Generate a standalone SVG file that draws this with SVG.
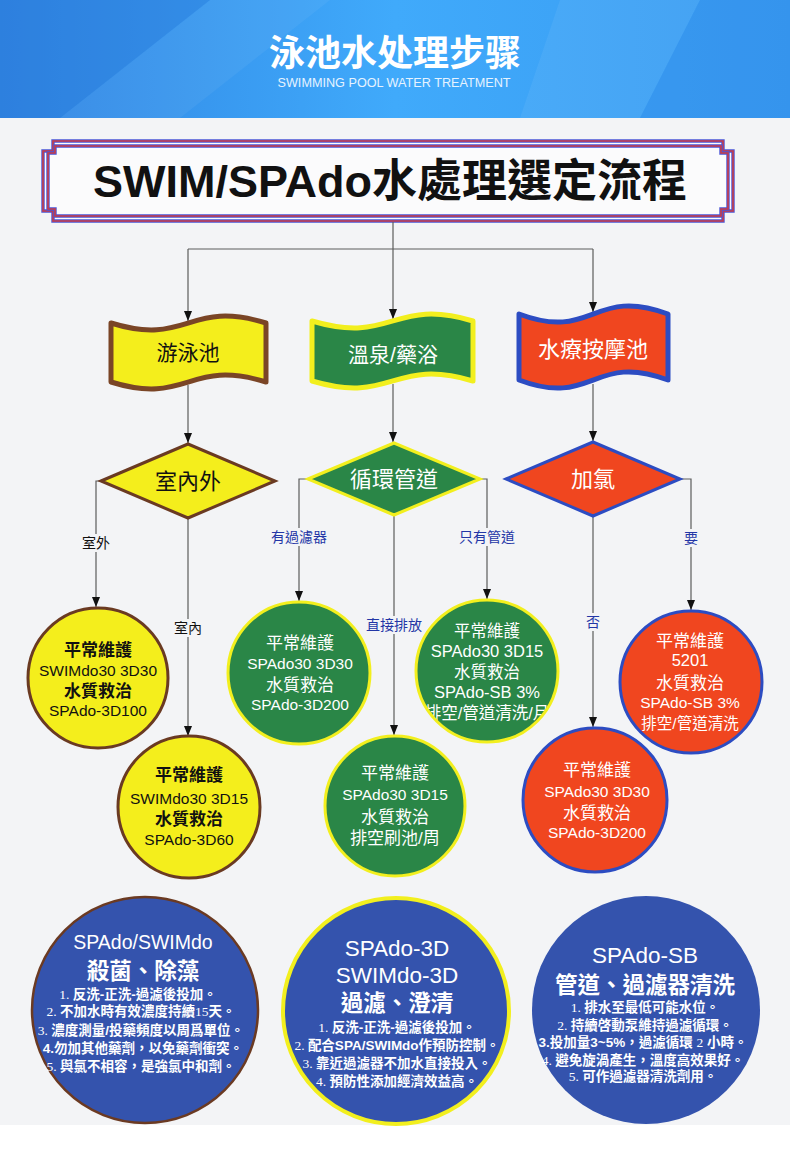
<svg xmlns="http://www.w3.org/2000/svg" width="790" height="1162" viewBox="0 0 790 1162">
<defs>
  <linearGradient id="hdr" x1="0" y1="0" x2="1" y2="0">
    <stop offset="0" stop-color="#2f84e2"/>
    <stop offset="0.5" stop-color="#40aafb"/>
    <stop offset="1" stop-color="#399bf1"/>
  </linearGradient>
  <marker id="arr" markerWidth="10" markerHeight="8" refX="10" refY="4" orient="auto" markerUnits="userSpaceOnUse">
    <path d="M0,0 L10,4 L0,8 Z" fill="#111"/>
  </marker>
  <clipPath id="clipG3"><circle cx="487" cy="671" r="70"/></clipPath>
</defs>
<style>
  text { font-family: "Liberation Sans", "Noto Sans CJK TC", sans-serif; text-anchor: middle; }
  .conn { fill: none; stroke: #5c5c5c; stroke-width: 1.2; }
  .arrow { marker-end: url(#arr); }
  .lbl { font-size: 14px; }
  .lblB { fill: #2336a6; }
  .lblK { fill: #111; }
  .lblbg { fill: #f3f4f6; }
  .yel { fill: #f4ee1c; stroke: #6a3a22; stroke-width: 3; }
  .grn { fill: #2a8647; stroke: #f2ef1e; stroke-width: 3; }
  .red { fill: #f0461f; stroke: #2c4cc2; stroke-width: 3; }
  .ban { stroke-width: 5; stroke-linejoin: round; }
  .tk { fill: #111; }
  .tw { fill: #fff; }
  .h { font-size: 17px; }
  .m { font-size: 15.5px; }
  .bold { font-weight: bold; }
  .blue { fill: #3453ad; }
  .bt { fill: #fff; font-size: 22.5px; }
  .bh { fill: #fff; font-size: 22.5px; font-weight: bold; }
  .it { fill: #fff; font-size: 13.5px; font-weight: bold; }
  .sf { font-family: "Liberation Serif", serif; font-weight: normal; }
  .frameB { fill: none; stroke: #4b56d6; stroke-width: 3.4; }
  .frameR { fill: none; stroke: #c83c48; stroke-width: 1.6; }
</style>

<!-- page background -->
<rect x="0" y="0" width="790" height="1162" fill="#ffffff"/>
<rect x="0" y="118" width="790" height="1007" fill="#f3f4f6"/>

<!-- header -->
<g id="header">
  <rect x="0" y="0" width="790" height="118" fill="url(#hdr)"/>
  <polygon points="0,0 210,0 60,118 0,118" fill="#2a78d6" opacity="0.35"/>
  <polygon points="210,0 330,0 180,118 60,118" fill="#ffffff" opacity="0.05"/>
  <polygon points="560,0 700,0 640,118 520,118" fill="#ffffff" opacity="0.06"/>
  <polygon points="700,0 790,0 790,118 640,118" fill="#2e86e4" opacity="0.3"/>
  <text x="395" y="66" fill="#ffffff" font-size="36" font-weight="bold" style="font-family:'Noto Sans CJK SC', sans-serif;">泳池水处理步骤</text>
  <text x="394" y="87" fill="#e6f3ff" font-size="12.5" textLength="233" lengthAdjust="spacingAndGlyphs">SWIMMING POOL WATER TREATMENT</text>
</g>

<!-- title frame -->
<g id="title">
  <path d="M53,141 H723 V151 H733 V211 H723 V221 H53 V211 H43 V151 H53 Z" fill="#fbfbfc"/>
  <path class="frameB" d="M53,141 H723 V151 H733 V211 H723 V221 H53 V211 H43 V151 H53 Z"/>
  <path class="frameR" d="M53,141 H723 V151 H733 V211 H723 V221 H53 V211 H43 V151 H53 Z"/>
  <path class="frameB" d="M55,146 H721 V153 H728 V209 H721 V216 H55 V209 H48 V153 H55 Z"/>
  <path class="frameR" d="M55,146 H721 V153 H728 V209 H721 V216 H55 V209 H48 V153 H55 Z"/>
  <text x="390" y="197" fill="#111" font-size="45" font-weight="bold">SWIM/SPAdo水處理選定流程</text>
</g>

<!-- connectors -->
<g id="connectors">
  <path class="conn" d="M393,222 V249"/>
  <path class="conn" d="M188,249 H593"/>
  <path class="conn arrow" d="M188,249 V321"/>
  <path class="conn arrow" d="M393,249 V319"/>
  <path class="conn arrow" d="M593,249 V312"/>
  <path class="conn arrow" d="M188,385 V443"/>
  <path class="conn arrow" d="M393,384 V442"/>
  <path class="conn arrow" d="M593,384 V441"/>
  <path class="conn arrow" d="M101,481 H96 V607"/>
  <path class="conn arrow" d="M188,518 V736"/>
  <path class="conn arrow" d="M308,479 H299 V601"/>
  <path class="conn arrow" d="M394,515 V735"/>
  <path class="conn arrow" d="M480,479 H487 V599"/>
  <path class="conn arrow" d="M593,516 V727"/>
  <path class="conn arrow" d="M680,479 H691 V610"/>
  <g id="labels">
    <rect class="lblbg" x="80" y="534" width="32" height="18"/>
    <text class="lbl lblK" x="96" y="548">室外</text>
    <rect class="lblbg" x="172" y="619" width="32" height="18"/>
    <text class="lbl lblK" x="188" y="633">室內</text>
    <rect class="lblbg" x="268" y="528" width="62" height="18"/>
    <text class="lbl lblB" x="299" y="542">有過濾器</text>
    <rect class="lblbg" x="363" y="616" width="62" height="18"/>
    <text class="lbl lblB" x="394" y="630">直接排放</text>
    <rect class="lblbg" x="456" y="528" width="62" height="18"/>
    <text class="lbl lblB" x="487" y="542">只有管道</text>
    <rect class="lblbg" x="584" y="613" width="18" height="18"/>
    <text class="lbl lblB" x="593" y="627">否</text>
    <rect class="lblbg" x="682" y="529" width="18" height="18"/>
    <text class="lbl lblB" x="691" y="543">要</text>
  </g>
</g>

<!-- banners -->
<g id="banner-pool">
  <path class="ban" fill="#f4ee1c" stroke="#7a4526" d="M111,323 C188,347 188,299 266,323 L266,382 C188,358 188,406 111,382 Z"/>
  <text x="188" y="360" fill="#111" font-size="21">游泳池</text>
</g>
<g id="banner-spa">
  <path class="ban" fill="#2a8647" stroke="#f2ef1e" d="M312,321 C393,345 393,297 473,321 L473,381 C393,357 393,405 312,381 Z"/>
  <text x="393" y="362" fill="#fff" font-size="21">溫泉/藥浴</text>
</g>
<g id="banner-hydro">
  <path class="ban" fill="#f0461f" stroke="#2c4cc2" d="M519,314 C593,342 593,286 668,314 L668,380 C593,352 593,408 519,380 Z"/>
  <text x="593" y="357" fill="#fff" font-size="22">水療按摩池</text>
</g>

<!-- diamonds -->
<g id="dia-inout">
  <polygon class="yel" points="101,481 188,444 275,481 188,518"/>
  <text x="188" y="489" fill="#111" font-size="22">室內外</text>
</g>
<g id="dia-pipe">
  <polygon class="grn" points="308,479 394,443 480,479 394,515"/>
  <text x="394" y="487" fill="#fff" font-size="22">循環管道</text>
</g>
<g id="dia-chlorine">
  <polygon class="red" points="506,479 593,442 680,479 593,516"/>
  <text x="593" y="487" fill="#fff" font-size="22">加氯</text>
</g>

<!-- result circles -->
<g id="c-outdoor">
  <circle class="yel" cx="98" cy="678" r="70"/>
  <text class="tk h bold" x="98" y="656">平常維護</text>
  <text class="tk m" x="98" y="676">SWIMdo30 3D30</text>
  <text class="tk h bold" x="98" y="697">水質救治</text>
  <text class="tk m" x="98" y="716">SPAdo-3D100</text>
</g>
<g id="c-indoor">
  <circle class="yel" cx="189" cy="807" r="71"/>
  <text class="tk h bold" x="189" y="781">平常維護</text>
  <text class="tk m" x="189" y="804">SWIMdo30 3D15</text>
  <text class="tk h bold" x="189" y="825">水質救治</text>
  <text class="tk m" x="189" y="845">SPAdo-3D60</text>
</g>
<g id="c-filter">
  <circle class="grn" cx="299" cy="673" r="71"/>
  <text class="tw h" x="300" y="649">平常維護</text>
  <text class="tw m" x="300" y="669">SPAdo30 3D30</text>
  <text class="tw h" x="300" y="691">水質救治</text>
  <text class="tw m" x="300" y="710">SPAdo-3D200</text>
</g>
<g id="c-drain">
  <circle class="grn" cx="395" cy="806" r="70"/>
  <text class="tw h" x="395" y="779">平常維護</text>
  <text class="tw m" x="395" y="800">SPAdo30 3D15</text>
  <text class="tw h" x="395" y="823">水質救治</text>
  <text class="tw h" x="395" y="844">排空刷池/周</text>
</g>
<g id="c-pipeonly">
  <circle fill="#2a8647" cx="487" cy="671" r="71"/>
  <g clip-path="url(#clipG3)" font-size="16.5">
    <text class="tw" x="487" y="637">平常維護</text>
    <text class="tw" x="487" y="657">SPAdo30 3D15</text>
    <text class="tw" x="487" y="678">水質救治</text>
    <text class="tw" x="487" y="698">SPAdo-SB 3%</text>
    <text class="tw" x="487" y="719">排空/管道清洗/月</text>
  </g>
  <circle fill="none" stroke="#f2ef1e" stroke-width="3" cx="487" cy="671" r="71"/>
</g>
<g id="c-chlorine-yes">
  <circle class="red" cx="691" cy="682" r="71"/>
  <text class="tw h" x="690" y="647">平常維護</text>
  <text class="tw" x="690" y="666" font-size="16.5">5201</text>
  <text class="tw h" x="690" y="689">水質救治</text>
  <text class="tw m" x="690" y="708">SPAdo-SB 3%</text>
  <text class="tw" x="690" y="729" font-size="15.5">排空/管道清洗</text>
</g>
<g id="c-chlorine-no">
  <circle class="red" cx="595" cy="800" r="72"/>
  <text class="tw h" x="597" y="776">平常維護</text>
  <text class="tw m" x="597" y="797">SPAdo30 3D30</text>
  <text class="tw h" x="597" y="819">水質救治</text>
  <text class="tw m" x="597" y="838">SPAdo-3D200</text>
</g>

<!-- product circles -->
<g id="p-swimdo">
  <circle class="blue" cx="145" cy="1010" r="113" stroke="#6b3a22" stroke-width="2.5"/>
  <text x="143" y="949" fill="#fff" font-size="19.5">SPAdo/SWIMdo</text>
  <text class="bh" x="143" y="979">殺菌、除藻</text>
  <text class="it" x="138" y="999"><tspan class="sf">1. </tspan>反洗-正洗-過濾後投加。</text>
  <text class="it" x="141" y="1016"><tspan class="sf">2. </tspan>不加水時有效濃度持續<tspan class="sf">15</tspan>天。</text>
  <text class="it" x="141" y="1035"><tspan class="sf">3. </tspan>濃度測量/投藥頻度以周爲單位。</text>
  <text class="it" x="143" y="1053">4.勿加其他藥劑，以免藥劑衝突。</text>
  <text class="it" x="141" y="1071"><tspan class="sf">5. </tspan>與氯不相容，是強氯中和劑。</text>
</g>
<g id="p-3d">
  <circle class="blue" cx="396" cy="1011" r="113" stroke="#f2ef1e" stroke-width="4"/>
  <text class="bt" x="397" y="956">SPAdo-3D</text>
  <text class="bt" x="397" y="983">SWIMdo-3D</text>
  <text class="bh" x="397" y="1011">過濾、澄清</text>
  <text class="it" x="397" y="1032"><tspan class="sf">1. </tspan>反洗-正洗-過濾後投加。</text>
  <text class="it" x="397" y="1050"><tspan class="sf">2. </tspan>配合SPA/SWIMdo作預防控制。</text>
  <text class="it" x="397" y="1068"><tspan class="sf">3. </tspan>靠近過濾器不加水直接投入。</text>
  <text class="it" x="397" y="1086"><tspan class="sf">4. </tspan>預防性添加經濟效益高。</text>
</g>
<g id="p-sb">
  <circle class="blue" cx="646" cy="1010" r="114"/>
  <text class="bt" x="645" y="963">SPAdo-SB</text>
  <text class="bh" x="645" y="993">管道、過濾器清洗</text>
  <text class="it" x="645" y="1012"><tspan class="sf">1. </tspan>排水至最低可能水位。</text>
  <text class="it" x="645" y="1030"><tspan class="sf">2. </tspan>持續啓動泵維持過濾循環。</text>
  <text class="it" x="643" y="1047">3.投加量3~5%，過濾循環 <tspan class="sf">2</tspan> 小時。</text>
  <text class="it" x="643" y="1065"><tspan class="sf">4. </tspan>避免旋渦產生，溫度高效果好。</text>
  <text class="it" x="643" y="1081"><tspan class="sf">5. </tspan>可作過濾器清洗劑用。</text>
</g>
</svg>
